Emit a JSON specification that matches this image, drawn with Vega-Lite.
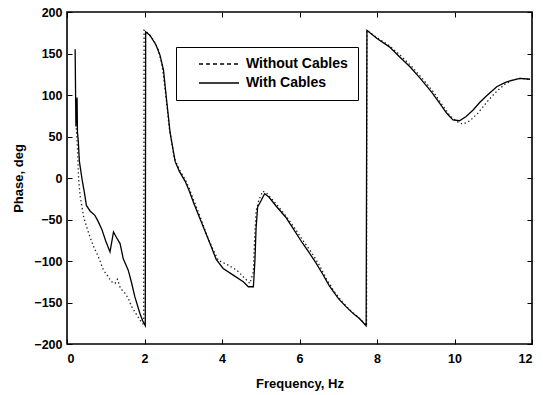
{
  "$schema": "https://vega.github.io/schema/vega-lite/v6.json",
  "width": 465,
  "height": 332,
  "autosize": {"type": "none"},
  "padding": {"left": 67, "top": 12, "right": 11, "bottom": 51},
  "background": "white",
  "config": {
    "view": {"stroke": "black", "strokeWidth": 1.6},
    "font": "Liberation Sans",
    "axis": {
      "grid": false,
      "domain": false,
      "tickColor": "black",
      "tickSize": -5,
      "tickWidth": 1,
      "labelFont": "Liberation Sans",
      "labelFontWeight": "bold",
      "labelFontSize": 12.5,
      "labelColor": "black",
      "titleFont": "Liberation Sans",
      "titleFontWeight": "bold",
      "titleFontSize": 13,
      "titleColor": "black"
    }
  },
  "data": {
    "values": [
      {"f": 0.21, "p": 155, "s": "With Cables"},
      {"f": 0.23, "p": 62, "s": "With Cables"},
      {"f": 0.26, "p": 97, "s": "With Cables"},
      {"f": 0.27, "p": 55, "s": "With Cables"},
      {"f": 0.29, "p": 45, "s": "With Cables"},
      {"f": 0.32, "p": 20, "s": "With Cables"},
      {"f": 0.39, "p": -2, "s": "With Cables"},
      {"f": 0.45, "p": -18, "s": "With Cables"},
      {"f": 0.5, "p": -33, "s": "With Cables"},
      {"f": 0.6, "p": -40, "s": "With Cables"},
      {"f": 0.72, "p": -45, "s": "With Cables"},
      {"f": 0.8, "p": -52, "s": "With Cables"},
      {"f": 0.9, "p": -62, "s": "With Cables"},
      {"f": 1.0, "p": -76, "s": "With Cables"},
      {"f": 1.11, "p": -89, "s": "With Cables"},
      {"f": 1.2, "p": -65, "s": "With Cables"},
      {"f": 1.28, "p": -72, "s": "With Cables"},
      {"f": 1.37, "p": -79, "s": "With Cables"},
      {"f": 1.45, "p": -97, "s": "With Cables"},
      {"f": 1.58, "p": -111, "s": "With Cables"},
      {"f": 1.66, "p": -125, "s": "With Cables"},
      {"f": 1.75, "p": -143, "s": "With Cables"},
      {"f": 1.88, "p": -163, "s": "With Cables"},
      {"f": 1.96, "p": -173, "s": "With Cables"},
      {"f": 2.02, "p": -178, "s": "With Cables"},
      {"f": 2.03, "p": 176, "s": "With Cables"},
      {"f": 2.14, "p": 172, "s": "With Cables"},
      {"f": 2.3, "p": 160, "s": "With Cables"},
      {"f": 2.4, "p": 148, "s": "With Cables"},
      {"f": 2.49, "p": 130, "s": "With Cables"},
      {"f": 2.57, "p": 94, "s": "With Cables"},
      {"f": 2.66, "p": 55, "s": "With Cables"},
      {"f": 2.79, "p": 20, "s": "With Cables"},
      {"f": 2.9, "p": 8, "s": "With Cables"},
      {"f": 3.05, "p": -4, "s": "With Cables"},
      {"f": 3.15, "p": -15, "s": "With Cables"},
      {"f": 3.27, "p": -30, "s": "With Cables"},
      {"f": 3.44, "p": -50, "s": "With Cables"},
      {"f": 3.69, "p": -79, "s": "With Cables"},
      {"f": 3.85, "p": -98, "s": "With Cables"},
      {"f": 4.03, "p": -109, "s": "With Cables"},
      {"f": 4.29, "p": -117, "s": "With Cables"},
      {"f": 4.55, "p": -125, "s": "With Cables"},
      {"f": 4.68, "p": -131, "s": "With Cables"},
      {"f": 4.81, "p": -131, "s": "With Cables"},
      {"f": 4.85, "p": -99, "s": "With Cables"},
      {"f": 4.88, "p": -60, "s": "With Cables"},
      {"f": 4.92, "p": -35, "s": "With Cables"},
      {"f": 5.0, "p": -28, "s": "With Cables"},
      {"f": 5.1, "p": -19, "s": "With Cables"},
      {"f": 5.21, "p": -23, "s": "With Cables"},
      {"f": 5.4, "p": -34, "s": "With Cables"},
      {"f": 5.64, "p": -47, "s": "With Cables"},
      {"f": 5.85, "p": -62, "s": "With Cables"},
      {"f": 6.07, "p": -78, "s": "With Cables"},
      {"f": 6.25, "p": -90, "s": "With Cables"},
      {"f": 6.42, "p": -102, "s": "With Cables"},
      {"f": 6.6, "p": -116, "s": "With Cables"},
      {"f": 6.77, "p": -130, "s": "With Cables"},
      {"f": 7.0, "p": -145, "s": "With Cables"},
      {"f": 7.2, "p": -155, "s": "With Cables"},
      {"f": 7.4, "p": -164, "s": "With Cables"},
      {"f": 7.54, "p": -169, "s": "With Cables"},
      {"f": 7.72, "p": -178, "s": "With Cables"},
      {"f": 7.74, "p": 178, "s": "With Cables"},
      {"f": 8.0, "p": 168, "s": "With Cables"},
      {"f": 8.32, "p": 158, "s": "With Cables"},
      {"f": 8.58, "p": 146, "s": "With Cables"},
      {"f": 8.85, "p": 134, "s": "With Cables"},
      {"f": 9.1, "p": 121, "s": "With Cables"},
      {"f": 9.4, "p": 104, "s": "With Cables"},
      {"f": 9.62, "p": 90, "s": "With Cables"},
      {"f": 9.8, "p": 78, "s": "With Cables"},
      {"f": 9.96, "p": 70, "s": "With Cables"},
      {"f": 10.13, "p": 69, "s": "With Cables"},
      {"f": 10.3, "p": 74, "s": "With Cables"},
      {"f": 10.48, "p": 82, "s": "With Cables"},
      {"f": 10.65, "p": 91, "s": "With Cables"},
      {"f": 10.83, "p": 99, "s": "With Cables"},
      {"f": 11.09, "p": 110, "s": "With Cables"},
      {"f": 11.3, "p": 115, "s": "With Cables"},
      {"f": 11.43, "p": 117, "s": "With Cables"},
      {"f": 11.69, "p": 120, "s": "With Cables"},
      {"f": 11.95, "p": 119, "s": "With Cables"},

      {"f": 0.24, "p": 60, "s": "Without Cables"},
      {"f": 0.27, "p": 35, "s": "Without Cables"},
      {"f": 0.3, "p": -2, "s": "Without Cables"},
      {"f": 0.34, "p": -22, "s": "Without Cables"},
      {"f": 0.43, "p": -47, "s": "Without Cables"},
      {"f": 0.5, "p": -58, "s": "Without Cables"},
      {"f": 0.6, "p": -72, "s": "Without Cables"},
      {"f": 0.7, "p": -84, "s": "Without Cables"},
      {"f": 0.81, "p": -95, "s": "Without Cables"},
      {"f": 0.94, "p": -111, "s": "Without Cables"},
      {"f": 1.05, "p": -118, "s": "Without Cables"},
      {"f": 1.15, "p": -125, "s": "Without Cables"},
      {"f": 1.24, "p": -127, "s": "Without Cables"},
      {"f": 1.3, "p": -122, "s": "Without Cables"},
      {"f": 1.38, "p": -133, "s": "Without Cables"},
      {"f": 1.5, "p": -139, "s": "Without Cables"},
      {"f": 1.58, "p": -145, "s": "Without Cables"},
      {"f": 1.67, "p": -155, "s": "Without Cables"},
      {"f": 1.8, "p": -165, "s": "Without Cables"},
      {"f": 1.9, "p": -172, "s": "Without Cables"},
      {"f": 1.98, "p": -177, "s": "Without Cables"},
      {"f": 1.99, "p": 178, "s": "Without Cables"},
      {"f": 2.1, "p": 174, "s": "Without Cables"},
      {"f": 2.25, "p": 165, "s": "Without Cables"},
      {"f": 2.35, "p": 155, "s": "Without Cables"},
      {"f": 2.45, "p": 137, "s": "Without Cables"},
      {"f": 2.55, "p": 100, "s": "Without Cables"},
      {"f": 2.64, "p": 60, "s": "Without Cables"},
      {"f": 2.77, "p": 24, "s": "Without Cables"},
      {"f": 2.9, "p": 10, "s": "Without Cables"},
      {"f": 3.05, "p": -2, "s": "Without Cables"},
      {"f": 3.15, "p": -12, "s": "Without Cables"},
      {"f": 3.27, "p": -27, "s": "Without Cables"},
      {"f": 3.44, "p": -47, "s": "Without Cables"},
      {"f": 3.65, "p": -74, "s": "Without Cables"},
      {"f": 3.9, "p": -99, "s": "Without Cables"},
      {"f": 4.16, "p": -105, "s": "Without Cables"},
      {"f": 4.38, "p": -111, "s": "Without Cables"},
      {"f": 4.55, "p": -119, "s": "Without Cables"},
      {"f": 4.72, "p": -127, "s": "Without Cables"},
      {"f": 4.81, "p": -113, "s": "Without Cables"},
      {"f": 4.84, "p": -75, "s": "Without Cables"},
      {"f": 4.88, "p": -40, "s": "Without Cables"},
      {"f": 4.95, "p": -27, "s": "Without Cables"},
      {"f": 5.05, "p": -16, "s": "Without Cables"},
      {"f": 5.15, "p": -18, "s": "Without Cables"},
      {"f": 5.3, "p": -26, "s": "Without Cables"},
      {"f": 5.5, "p": -37, "s": "Without Cables"},
      {"f": 5.7, "p": -49, "s": "Without Cables"},
      {"f": 5.9, "p": -62, "s": "Without Cables"},
      {"f": 6.1, "p": -76, "s": "Without Cables"},
      {"f": 6.3, "p": -89, "s": "Without Cables"},
      {"f": 6.5, "p": -104, "s": "Without Cables"},
      {"f": 6.7, "p": -122, "s": "Without Cables"},
      {"f": 6.9, "p": -137, "s": "Without Cables"},
      {"f": 7.1, "p": -149, "s": "Without Cables"},
      {"f": 7.3, "p": -159, "s": "Without Cables"},
      {"f": 7.5, "p": -167, "s": "Without Cables"},
      {"f": 7.7, "p": -176, "s": "Without Cables"},
      {"f": 7.73, "p": -178, "s": "Without Cables"},
      {"f": 7.74, "p": 178, "s": "Without Cables"},
      {"f": 8.0, "p": 169, "s": "Without Cables"},
      {"f": 8.3, "p": 160, "s": "Without Cables"},
      {"f": 8.6, "p": 148, "s": "Without Cables"},
      {"f": 8.9, "p": 134, "s": "Without Cables"},
      {"f": 9.15, "p": 121, "s": "Without Cables"},
      {"f": 9.45, "p": 104, "s": "Without Cables"},
      {"f": 9.7, "p": 87, "s": "Without Cables"},
      {"f": 9.9, "p": 74, "s": "Without Cables"},
      {"f": 10.1, "p": 67, "s": "Without Cables"},
      {"f": 10.22, "p": 65, "s": "Without Cables"},
      {"f": 10.4, "p": 69, "s": "Without Cables"},
      {"f": 10.6, "p": 78, "s": "Without Cables"},
      {"f": 10.74, "p": 86, "s": "Without Cables"},
      {"f": 10.9, "p": 95, "s": "Without Cables"},
      {"f": 11.1, "p": 105, "s": "Without Cables"},
      {"f": 11.3, "p": 113, "s": "Without Cables"},
      {"f": 11.5, "p": 118, "s": "Without Cables"},
      {"f": 11.7, "p": 120, "s": "Without Cables"},
      {"f": 11.95, "p": 119, "s": "Without Cables"}
    ]
  },
  "resolve": {"axis": {"x": "independent", "y": "independent"}},
  "layer": [
    {
      "transform": [{"filter": "datum.s === 'Without Cables'"}],
      "mark": {"type": "line", "color": "#222222", "strokeWidth": 1.3, "strokeDash": [1.4, 2.6], "clip": true},
      "encoding": {
        "x": {
          "field": "f", "type": "quantitative",
          "scale": {"domain": [0, 12], "nice": false},
          "axis": {"orient": "bottom", "values": [0, 2, 4, 6, 8, 10, 12], "title": "Frequency, Hz", "labelPadding": 13, "titlePadding": 13}
        },
        "y": {
          "field": "p", "type": "quantitative",
          "scale": {"domain": [-200, 200], "nice": false},
          "axis": {"orient": "left", "values": [-200, -150, -100, -50, 0, 50, 100, 150, 200], "title": "Phase, deg", "labelPadding": 10, "titlePadding": 8}
        }
      }
    },
    {
      "transform": [{"filter": "datum.s === 'With Cables'"}],
      "mark": {"type": "line", "color": "black", "strokeWidth": 1.3, "clip": true},
      "encoding": {
        "x": {
          "field": "f", "type": "quantitative",
          "axis": {"orient": "top", "values": [0, 2, 4, 6, 8, 10, 12], "labels": false, "title": null}
        },
        "y": {
          "field": "p", "type": "quantitative",
          "axis": {"orient": "right", "values": [-200, -150, -100, -50, 0, 50, 100, 150, 200], "labels": false, "title": null}
        }
      }
    },
    {
      "transform": [{"filter": "false"}],
      "mark": {"type": "line", "color": "black", "strokeWidth": 1.3},
      "encoding": {
        "x": {"field": "f", "type": "quantitative", "axis": null},
        "y": {"field": "p", "type": "quantitative", "axis": null},
        "strokeDash": {
          "field": "s", "type": "nominal",
          "scale": {"domain": ["Without Cables", "With Cables"], "range": [[4, 3], [1, 0]]},
          "legend": {
            "title": null,
            "orient": "none",
            "legendX": 109,
            "legendY": 35,
            "strokeColor": "black",
            "fillColor": "white",
            "padding": 10,
            "symbolType": "M-4,0H4",
            "symbolSize": 100,
            "symbolStrokeWidth": 1.3,
            "symbolStrokeColor": "black",
            "symbolOffset": 26,
            "labelFont": "Liberation Sans",
            "labelFontWeight": "bold",
            "labelFontSize": 14,
            "labelColor": "black",
            "labelOffset": 20,
            "rowPadding": 5
          }
        }
      }
    }
  ]
}
